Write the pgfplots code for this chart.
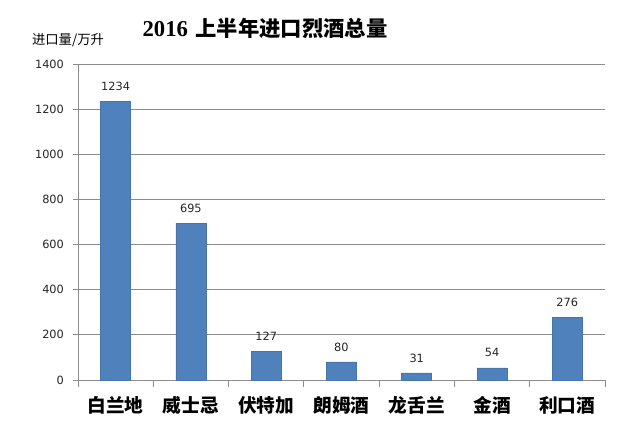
\documentclass[border=0pt]{standalone}
\usepackage{pgfplots}
\pgfplotsset{compat=1.18}
\usepackage{fontspec}
\setmainfont{DejaVu Sans}
\newfontfamily\cjk{Noto Sans CJK SC}
\newfontfamily\serifb{Liberation Serif}
\definecolor{barblue}{HTML}{4F81BD}
\definecolor{gridgray}{HTML}{8C8C8C}
\begin{document}
\begin{tikzpicture}
\useasboundingbox (0pt,0pt) rectangle (480pt,320.25pt);
\fill[white] (0pt,0pt) rectangle (480pt,320.25pt);
\begin{axis}[
  at={(86.7pt,35.25pt)}, anchor=origin,
  scale only axis,
  width=395.25pt, height=237pt,
  xmin=-0.5, xmax=6.5,
  ymin=0, ymax=1400,
  ytick={0,200,...,1400},
  xtick={0,...,6},
  xticklabels={白兰地,威士忌,伏特加,朗姆酒,龙舌兰,金酒,利口酒},
  xticklabel style={font=\cjk\bfseries\fontsize{14}{16}\selectfont, yshift=-5pt},
  major x tick style={draw=none},
  minor xtick={-0.5,0.5,...,6.5},
  minor x tick style={draw=gridgray, line width=0.6pt},
  minor tick length=5pt,
  tick align=outside,
  major tick length=4pt,
  ytick style={draw=gridgray, line width=0.6pt},
  yticklabel style={font=\fontsize{8.5}{10}\selectfont, text=black!85, xshift=-3pt},
  /pgf/number format/assume math mode=true,
  /pgf/number format/1000 sep={},
  ymajorgrids,
  grid style={draw=gridgray, line width=0.6pt},
  axis x line*=bottom,
  axis y line*=left,
  axis line style={draw=gridgray, line width=0.6pt, -},
  ybar, bar width=22.5pt,
  nodes near coords,
  every node near coord/.append style={font=\fontsize{8.5}{10}\selectfont, text=black!85, yshift=4.5pt},
  clip=false,
]
\addplot[fill=barblue, draw=barblue!90!black] coordinates {(0,1234) (1,695) (2,127) (3,80) (4,31) (5,54) (6,276)};
\end{axis}
\node[anchor=base, font=\bfseries\fontsize{16}{19}\selectfont] at (198.75pt,292.5pt) {{\serifb\fontsize{17}{19}\selectfont 2016} {\cjk 上半年进口烈酒总量}};
\node[anchor=base, font=\cjk\fontsize{10}{12}\selectfont] at (51pt,286.5pt) {进口量/万升};
\end{tikzpicture}
\end{document}
